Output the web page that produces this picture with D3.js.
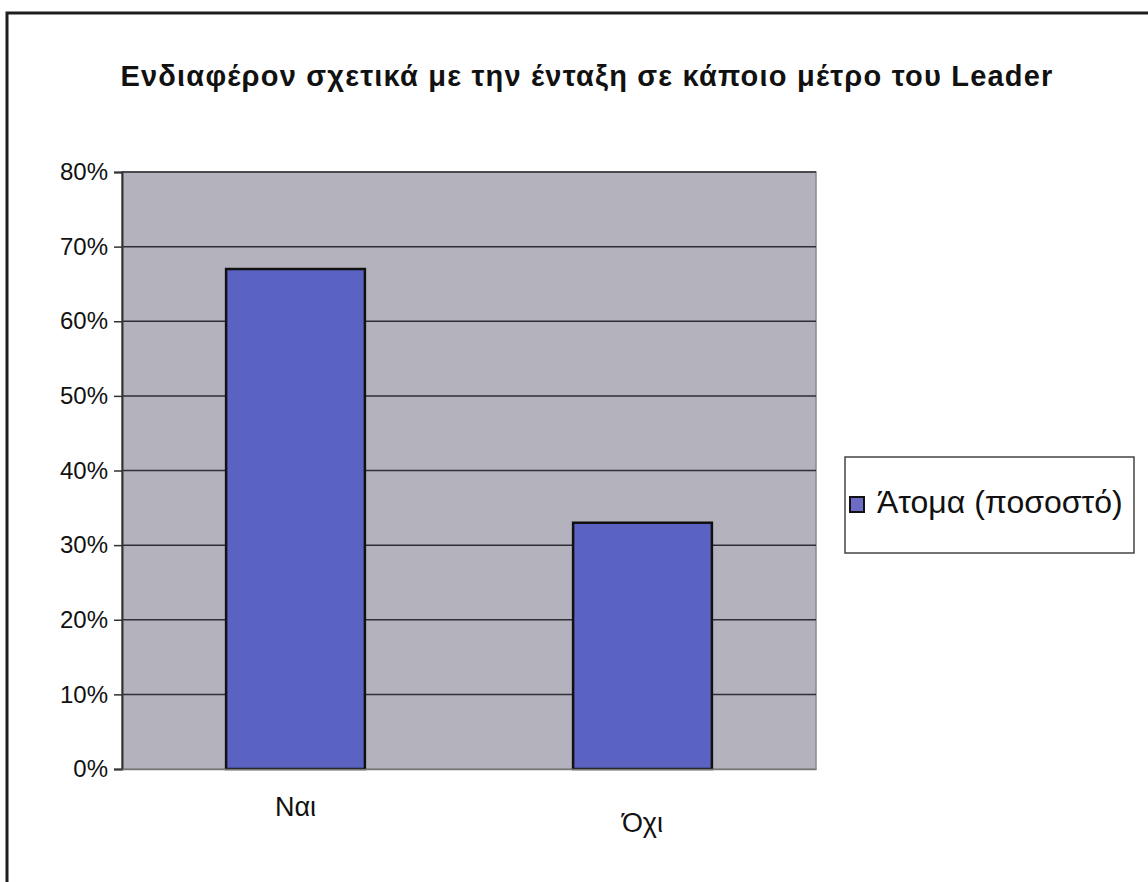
<!DOCTYPE html>
<html>
 <head>
  <meta charset="utf-8">
  <title>Leader</title>
  <script src="https://cdnjs.cloudflare.com/ajax/libs/d3/7.8.3/d3.min.js"></script>
  <style>
   body { margin: 0; background: #fff; }
   text { font-family: "Liberation Sans", Arial, sans-serif; fill: #111; }
  </style>
 </head>
 <body>
  <script>
   const categories = ["Ναι", "Όχι"];
   const values = [0.67, 0.33];
   const yTicks = [0, 0.1, 0.2, 0.3, 0.4, 0.5, 0.6, 0.7, 0.8];
   const seriesName = "Άτομα (ποσοστό)";
   const title = "Ενδιαφέρον σχετικά με την ένταξη σε κάποιο μέτρο του Leader";

   const w = 1148;
   const h = 882;
   const plotLeft = 122, plotRight = 816, plotTop = 172, plotBottom = 769;

   const svg = d3.select("body")
                 .append("svg")
                 .attr("width", w)
                 .attr("height", h);

   // outer frame (only top and left survive in the scan)
   svg.append("path")
      .attr("d", "M7," + h + " L7,13 L" + w + ",13")
      .attr("fill", "none")
      .attr("stroke", "#1e1e1e")
      .attr("stroke-width", 3);

   svg.append("text")
      .attr("x", 587)
      .attr("y", 86)
      .attr("text-anchor", "middle")
      .style("font-weight", "bold")
      .style("font-size", "29px")
      .style("letter-spacing", "1.2px")
      .text(title);

   const xScale = d3.scaleBand()
                    .domain(categories)
                    .range([plotLeft, plotRight])
                    .paddingInner(0.6)
                    .paddingOuter(0.3);
   const yScale = d3.scaleLinear()
                    .domain([0, 0.8])
                    .range([plotBottom, plotTop]);

   svg.append("rect")
      .attr("x", plotLeft)
      .attr("y", plotTop)
      .attr("width", plotRight - plotLeft)
      .attr("height", plotBottom - plotTop)
      .attr("fill", "#b4b3bd")
      .attr("stroke", "#8a8a90")
      .attr("stroke-width", 1.5);

   svg.append("g")
      .selectAll("line")
      .data(yTicks.filter(d => d > 0))
      .enter()
      .append("line")
      .attr("x1", plotLeft)
      .attr("x2", plotRight)
      .attr("y1", d => yScale(d))
      .attr("y2", d => yScale(d))
      .attr("stroke", "#2e2e34")
      .attr("stroke-width", 1.5);

   svg.selectAll(".bar")
      .data(values)
      .enter()
      .append("rect")
      .attr("class", "bar")
      .attr("x", (d, i) => xScale(categories[i]))
      .attr("y", d => yScale(d))
      .attr("width", xScale.bandwidth())
      .attr("height", d => plotBottom - yScale(d))
      .attr("fill", "#5a62c2")
      .attr("stroke", "#111")
      .attr("stroke-width", 2.5);

   const yAxis = d3.axisLeft(yScale)
                   .tickValues(yTicks)
                   .tickSize(8)
                   .tickPadding(6)
                   .tickFormat(d3.format(".0%"));
   const gy = svg.append("g")
                 .attr("transform", "translate(" + plotLeft + ",0)")
                 .call(yAxis);
   gy.select(".domain").attr("stroke", "#333").attr("stroke-width", 2);
   gy.selectAll(".tick line").attr("stroke", "#333").attr("stroke-width", 1.5);
   gy.selectAll(".tick text")
     .attr("fill", "#111")
     .style("font-size", "24px")
     .style("font-family", "'Liberation Sans', Arial, sans-serif");

   const xAxis = d3.axisBottom(xScale)
                   .tickSize(0)
                   .tickPadding(28);
   const gx = svg.append("g")
                 .attr("transform", "translate(0," + plotBottom + ")")
                 .call(xAxis);
   gx.select(".domain").attr("stroke", "#777").attr("stroke-width", 1.5);
   gx.selectAll(".tick text")
     .attr("fill", "#111")
     .attr("dy", (d, i) => i === 1 ? "1.29em" : "0.71em")
     .style("font-size", "27px")
     .style("font-family", "'Liberation Sans', Arial, sans-serif");

   // legend
   const legend = svg.append("g");
   legend.append("rect")
         .attr("x", 845)
         .attr("y", 457)
         .attr("width", 289)
         .attr("height", 96)
         .attr("fill", "#fff")
         .attr("stroke", "#444")
         .attr("stroke-width", 1.5);
   legend.append("rect")
         .attr("x", 850)
         .attr("y", 497)
         .attr("width", 14)
         .attr("height", 15)
         .attr("fill", "#6c6cc4")
         .attr("stroke", "#111")
         .attr("stroke-width", 2);
   legend.append("text")
         .attr("x", 877)
         .attr("y", 513)
         .style("font-size", "32px")
         .text(seriesName);
  </script>
 </body>
</html>
